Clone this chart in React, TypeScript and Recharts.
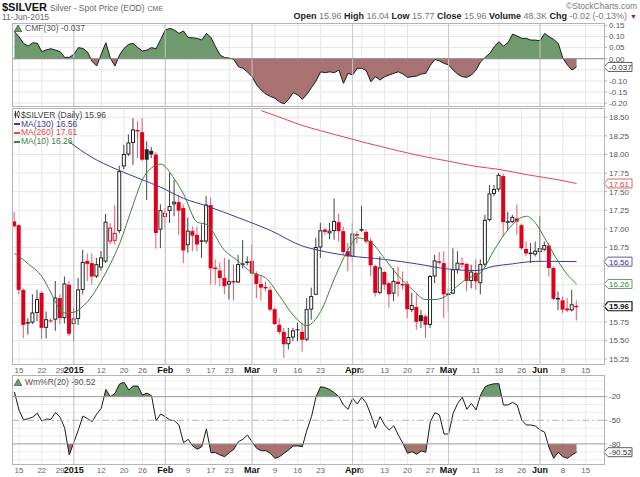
import React from 'react';
import {
  Area,
  Bar,
  CartesianGrid,
  ComposedChart,
  Line,
  ReferenceLine,
  XAxis,
  YAxis,
} from 'recharts';

// day index 0 = 15-Dec-2014, trading days only; first candle is day -1
const FIRST_DAY = -1;

const opens = [
  17.10, 17.05, 16.18, 15.73, 15.74, 15.87, 16.14, 15.67, 15.77, 15.78,
  16.07, 15.80, 16.25, 15.72, 15.79, 16.18, 16.57, 16.54, 16.36, 16.48,
  16.56, 16.83, 16.84, 16.97, 17.84, 18.00, 18.155, 18.33, 18.30, 18.07,
  18.05, 18.00, 16.99, 17.16, 17.24, 17.33, 17.36, 17.28, 16.78, 16.97,
  16.92, 16.83, 16.83, 17.32, 16.48, 16.44, 16.34, 16.25, 16.30, 16.28,
  16.52, 16.55, 16.57, 16.40, 16.26, 16.22, 16.18, 15.92, 15.71, 15.615,
  15.45, 15.54, 15.65, 15.615, 15.51, 15.915, 16.115, 16.75, 16.99, 16.94,
  16.97, 17.09, 16.97, 16.70, 16.63, 16.93, 16.98, 16.96, 16.84, 16.50,
  16.14, 16.42, 16.27, 16.13, 16.29, 16.26, 16.26, 15.91, 15.95, 15.84,
  15.825, 15.71, 16.36, 16.565, 16.54, 16.12, 16.13, 16.45, 16.54, 16.53,
  16.30, 16.41, 16.27, 16.52, 17.12, 17.47, 17.53, 17.71, 17.09, 17.09,
  17.14, 17.05, 16.73, 16.67, 16.655, 16.69, 16.72, 16.775, 16.475, 16.06,
  16.04, 15.93, 15.905, 15.96,
];
const highs = [
  17.23, 17.06, 16.20, 15.80, 16.12, 16.18, 16.16, 15.89, 15.80, 16.30,
  16.12, 16.36, 16.30, 15.94, 16.34, 16.72, 16.67, 16.67, 16.61, 16.70,
  17.20, 17.08, 17.32, 17.85, 18.13, 18.27, 18.49, 18.45, 18.49, 18.18,
  18.10, 18.03, 17.33, 17.28, 17.75, 17.66, 17.46, 17.33, 17.15, 17.03,
  17.03, 17.06, 17.44, 17.42, 16.59, 16.55, 16.61, 16.59, 16.52, 16.65,
  16.85, 16.63, 16.79, 16.43, 16.36, 16.29, 16.23, 15.94, 15.80, 15.67,
  15.67, 15.67, 15.74, 15.74, 16.07, 16.21, 16.88, 17.08, 17.01, 17.08,
  17.41, 17.20, 17.03, 16.81, 17.08, 16.97, 17.31, 16.99, 16.88, 16.52,
  16.63, 16.43, 16.29, 16.47, 16.49, 16.43, 16.30, 16.14, 16.12, 15.91,
  15.85, 16.38, 16.65, 16.69, 16.70, 16.21, 16.74, 16.70, 16.62, 16.54,
  16.52, 16.59, 16.59, 17.19, 17.59, 17.59, 17.75, 17.74, 17.23, 17.19,
  17.33, 17.07, 16.83, 16.81, 16.83, 17.17, 16.83, 16.81, 16.49, 16.16,
  16.09, 16.07, 16.18, 16.04,
];
const lows = [
  17.02, 16.12, 15.53, 15.58, 15.72, 15.76, 15.52, 15.53, 15.74, 15.63,
  15.72, 15.73, 15.56, 15.49, 15.71, 16.12, 16.30, 16.25, 16.34, 16.44,
  16.54, 16.79, 16.79, 16.94, 17.80, 17.98, 17.86, 17.95, 17.91, 17.39,
  17.95, 16.735, 16.74, 17.00, 17.08, 17.17, 16.92, 16.54, 16.68, 16.70,
  16.70, 16.61, 16.80, 16.25, 16.25, 16.23, 16.12, 16.05, 16.04, 16.27,
  16.47, 16.51, 16.39, 16.07, 16.04, 16.16, 15.89, 15.71, 15.58, 15.265,
  15.38, 15.49, 15.49, 15.35, 15.49, 15.78, 16.11, 16.61, 16.92, 16.86,
  16.855, 16.83, 16.65, 16.43, 16.56, 16.80, 16.96, 16.80, 16.36, 16.09,
  16.12, 16.18, 15.94, 16.03, 16.09, 16.18, 15.80, 15.88, 15.645, 15.67,
  15.53, 15.67, 16.27, 16.52, 15.80, 15.89, 16.12, 16.40, 16.47, 16.16,
  16.20, 16.18, 16.12, 16.50, 17.10, 17.44, 17.50, 16.90, 16.98, 17.08,
  16.92, 16.72, 16.63, 16.54, 16.63, 16.56, 16.70, 16.36, 16.04, 15.91,
  15.87, 15.88, 15.89, 15.77,
];
const closes = [
  17.035, 16.18, 15.71, 15.74, 15.87, 16.05, 15.67, 15.78, 15.76, 16.07,
  15.80, 16.26, 15.59, 15.79, 16.18, 16.55, 16.53, 16.36, 16.52, 16.61,
  17.09, 17.01, 16.94, 17.77, 18.00, 18.155, 18.33, 18.31, 17.93, 17.93,
  18.00, 16.945, 17.245, 17.21, 17.30, 17.36, 17.245, 16.71, 16.97, 16.91,
  16.79, 16.84, 17.32, 16.47, 16.46, 16.34, 16.23, 16.29, 16.28, 16.52,
  16.53, 16.555, 16.40, 16.26, 16.21, 16.20, 15.915, 15.72, 15.615, 15.45,
  15.54, 15.63, 15.64, 15.51, 15.915, 16.09, 16.75, 16.975, 16.96, 16.97,
  17.10, 16.97, 16.69, 16.63, 16.93, 16.91, 16.99, 16.83, 16.51, 16.14,
  16.475, 16.25, 16.12, 16.295, 16.26, 16.24, 15.92, 15.97, 15.75, 15.76,
  15.71, 16.36, 16.57, 16.545, 16.12, 16.125, 16.45, 16.54, 16.52, 16.30,
  16.42, 16.295, 16.52, 17.115, 17.47, 17.53, 17.72, 17.09, 17.095, 17.155,
  17.10, 16.74, 16.67, 16.675, 16.70, 16.735, 16.775, 16.475, 16.06, 16.065,
  15.915, 15.905, 15.98, 15.96,
];

// moving averages as [day, value]
const ma10 = [
  [-1, 16.67], [0, 16.63], [2, 16.53], [5, 16.36], [7, 16.14], [9, 15.91],
  [10, 15.87], [12, 15.88], [14, 15.96], [16, 16.1], [18, 16.3], [20, 16.53],
  [22, 16.8], [25, 17.33], [27, 17.66], [29, 17.82], [31, 17.87], [34, 17.67],
  [36, 17.47], [39, 17.09], [41, 17.06], [45, 16.71], [48, 16.565], [51, 16.41],
  [54, 16.34], [57, 16.1], [60, 15.84], [63, 15.7], [66, 15.89], [69, 16.33],
  [72, 16.72], [74, 16.88], [77, 16.82], [80, 16.6], [83, 16.37], [86, 16.19],
  [89, 16.05], [91, 16.05], [94, 16.12], [95, 16.18], [98, 16.33], [101, 16.41],
  [104, 16.72], [107, 16.99], [111, 17.17], [113, 17.08], [115, 16.88],
  [118, 16.56], [120, 16.385], [122, 16.26],
];
const ma130 = [
  [11, 18.17], [16, 17.96], [21, 17.81], [27, 17.66], [31, 17.56], [36, 17.41],
  [41, 17.31], [48, 17.15], [55, 16.98], [62, 16.77], [65, 16.72], [72, 16.64],
  [80, 16.59], [87, 16.53], [94, 16.46], [100, 16.44], [104, 16.5], [108, 16.53],
  [111, 16.555], [115, 16.565], [122, 16.56],
];
const ma260 = [
  [53, 18.59], [58, 18.48], [62, 18.39], [66, 18.32], [69, 18.27], [76, 18.155],
  [83, 18.05], [88, 17.98], [94, 17.91], [100, 17.84], [105, 17.8], [111, 17.73],
  [118, 17.66], [122, 17.61],
];

const cmf = [
  0.122, 0.099, 0.069, 0.057, 0.072, 0.070, 0.032, 0.040, 0.045, 0.039,
  0.032, 0.006, 0.006, 0.020, 0.050, 0.046, 0.030, -0.012, -0.033, 0.020,
  0.072, 0.002, -0.033, 0.017, 0.047, 0.065, 0.069, 0.050, 0.035, 0.039,
  0.050, 0.045, 0.087, 0.129, 0.137, 0.129, 0.114, 0.125, 0.096, 0.094,
  0.092, 0.084, 0.114, 0.096, 0.054, 0.017, 0.005, 0.003, -0.003, -0.036,
  -0.043, -0.060, -0.081, -0.118, -0.141, -0.159, -0.170, -0.178, -0.194, -0.204,
  -0.183, -0.153, -0.163, -0.183, -0.160, -0.130, -0.100, -0.059, -0.063, -0.059,
  -0.063, -0.051, -0.111, -0.066, -0.073, -0.043, -0.043, -0.054, -0.104, -0.081,
  -0.096, -0.081, -0.073, -0.066, -0.059, -0.069, -0.084, -0.081, -0.078, -0.069,
  -0.066, -0.030, -0.003, -0.010, -0.021, -0.028, -0.051, -0.070, -0.081, -0.084,
  -0.073, -0.051, -0.014, 0.006, 0.024, 0.054, 0.077, 0.057, 0.072, 0.111,
  0.102, 0.092, 0.092, 0.084, 0.084, 0.081, 0.114, 0.099, 0.087, 0.069,
  0.002, -0.028, -0.051, -0.037,
];

const wmr = [
  -14, -37, -49.6, -48, -46, -41, -50.9, -48.4, -48.8, -40,
  -46.2, -60, -94, -78, -62, -44.5, -48, -51.8, -42, -34.8,
  -11, -20, -15.8, -4, -1.8, -11.5, -6.5, -6.5, -18, -15.5,
  -18.8, -50.5, -42, -45.4, -49.6, -50.5, -56, -78.4, -74.1, -82.6,
  -86.8, -83.5, -61, -91.1, -91.1, -94, -96.2, -91.1, -86.8, -77.2,
  -74.1, -68.7, -77.2, -85.5, -88.6, -88.6, -91.9, -98.3, -96.2, -91.9,
  -87.7, -82.6, -82.6, -83.5, -62.3, -45.4, -20, -7.3, -8.6, -11,
  -15, -20, -30.6, -36, -22.1, -29.3, -20.8, -28.4, -43.3, -60.2,
  -45.4, -56, -62.3, -56.9, -68.7, -79.2, -91.9, -89.8, -93.1, -88.9,
  -90.6, -51.8, -40.4, -43.3, -67.4, -67.4, -41.1, -28.4, -20.8, -36,
  -28.4, -36.9, -17.9, -7.3, -4.8, -3.6, -3.6, -30.6, -30.6, -27.2,
  -30.6, -49.6, -56, -56, -57.2, -62.3, -65, -85, -98.3, -90.6,
  -96.2, -98.3, -94, -90.52,
];

const dateTicks = [0, 5, 9, 12, 18, 23, 27, 32, 37, 42, 46, 51, 56, 61, 66, 73, 75, 80, 85, 90, 94, 100, 105, 110, 114, 119, 124];
const dateLabels = ['15', '22', '29', '2015', '12', '20', '26', 'Feb', '9', '17', '23', 'Mar', '9', '16', '23', 'Apr', '6', '13', '20', '27', 'May', '11', '18', '26', 'Jun', '8', '15'];
const monthTicks = [12, 32, 51, 73, 94, 114];

const priceGrid = [15.25, 15.5, 15.75, 16, 16.25, 16.5, 16.75, 17, 17.25, 17.5, 17.75, 18, 18.25, 18.5];
// labels hidden under the value tags in the reference are left out
const priceTicks = [15.25, 15.5, 15.75, 16.75, 17, 17.25, 17.5, 17.75, 18, 18.25, 18.5];
const cmfGrid = [-0.2, -0.15, -0.1, -0.05, 0, 0.05, 0.1, 0.15];
const cmfTicks = [-0.2, -0.15, -0.1, 0, 0.05, 0.1, 0.15];
const wmrTicks = [-20, -50, -80];
const wmrGrid = [0, -10, -30, -40, -60, -70, -90, -100];

// layout
const W = 640;
const PLOT_L = 12;
const AXIS_W = 36;
const PAD = 6;
const X_DOMAIN = [-1.53, 128];
const CMF_TOP = 23;
const CMF_H = 83;
const CMF_DOMAIN = [-0.213, 0.161];
const MAIN_TOP = 108;
const MAIN_H = 256;
const PRICE_DOMAIN = [15.184, 18.625];
const WMR_TOP = 375;
const WMR_H = 89;
const WMR_DOMAIN = [-105.5, 7.5];
const XLAB_H = 13;

const FONT = '"Liberation Sans", Arial, sans-serif';
const RED = '#e0001b';
const GREEN_FILL = '#6e9a6e';
const BROWN_FILL = '#a97272';

const rows = opens.map((o, k) => ({
  i: FIRST_DAY + k,
  o,
  h: highs[k],
  l: lows[k],
  c: closes[k],
  prev: k > 0 ? closes[k - 1] : o,
  cmf: cmf[k],
  wmr: wmr[k],
}));
const withMa = rows.map((r) => {
  const a = ma10.find((p) => p[0] === r.i);
  const b = ma130.find((p) => p[0] === r.i);
  const d = ma260.find((p) => p[0] === r.i);
  return { ...r, ma10: a ? a[1] : undefined, ma130: b ? b[1] : undefined, ma260: d ? d[1] : undefined };
});

const Candle = (props: any) => {
  const { x, y, width, height, payload } = props;
  if (!payload || x == null || y == null) return null;
  const { o, h, l, c, prev } = payload;
  const hgt = Math.abs(height);
  const k = h > l ? hgt / (h - l) : 0;
  const py = (v: number) => y + (h - v) * k;
  const cx = x + width / 2;
  const red = c < prev;
  const filled = c < o;
  const color = red ? RED : '#222';
  const wick = red ? '#ec5868' : '#444';
  const top = py(Math.max(o, c));
  const bh = Math.max(1, py(Math.min(o, c)) - top);
  return (
    <g>
      <line x1={cx} x2={cx} y1={y} y2={y + hgt} stroke={wick} strokeWidth={1} />
      {filled ? (
        <rect x={cx - 2} y={top} width={4} height={bh} fill={color} />
      ) : (
        <rect x={cx - 1.5} y={top} width={3} height={Math.max(0.5, bh - 0.5)} fill="#fff" stroke={color} strokeWidth={1} />
      )}
    </g>
  );
};

const DateTick = (props: any) => {
  const { x, y, payload } = props;
  const k = dateTicks.indexOf(payload.value);
  const bold = monthTicks.includes(payload.value);
  return (
    <text
      x={x}
      y={y + 9}
      textAnchor="middle"
      fontSize={bold ? 9 : 8}
      fontWeight={bold ? 'bold' : 'normal'}
      fill={bold ? '#111' : '#666'}
      fontFamily={FONT}
    >
      {k >= 0 ? dateLabels[k] : ''}
    </text>
  );
};

const tag = (text: string, color: string, bold = false) => (props: any) => {
  const vb = props.viewBox;
  if (!vb) return null;
  const r = vb.x + vb.width;
  const y = vb.y;
  return (
    <g>
      <polygon
        points={`${r},${y} ${r + 4},${y - 4.5} ${r + 28},${y - 4.5} ${r + 28},${y + 4.5} ${r + 4},${y + 4.5}`}
        fill="#fff"
        stroke={color}
        strokeWidth={bold ? 1.2 : 0.8}
      />
      <text x={r + 5} y={y + 3} fontSize={8} fontWeight={bold ? 'bold' : 'normal'} fill={color} fontFamily={FONT}>
        {text}
      </text>
    </g>
  );
};

const yTick = { fontSize: 8, fill: '#555', fontFamily: FONT };

const Border = ({ top, height }: { top: number; height: number }) => (
  <div
    style={{
      position: 'absolute',
      left: PLOT_L,
      top,
      width: W - PLOT_L - AXIS_W + 1,
      height: height + 1,
      border: '1px solid #b4b4b4',
      boxSizing: 'border-box',
      pointerEvents: 'none',
    }}
  />
);

const Tri = ({ color }: { color: string }) => (
  <svg width={8} height={7} style={{ verticalAlign: 'middle', marginRight: 3 }}>
    <polygon points="0,7 4,0 8,7" fill={color} stroke="#333" strokeWidth={0.6} />
  </svg>
);

const cmfZero = CMF_DOMAIN[1] / (CMF_DOMAIN[1] - CMF_DOMAIN[0]);
const w20 = (WMR_DOMAIN[1] + 20) / (WMR_DOMAIN[1] - WMR_DOMAIN[0]);
const w80 = (WMR_DOMAIN[1] + 80) / (WMR_DOMAIN[1] - WMR_DOMAIN[0]);

const App = () => {
  const margin = { top: 0, right: 0, bottom: 0, left: PLOT_L };
  const padded = { top: PAD, right: 0, bottom: PAD, left: PLOT_L };
  return (
    <div
      style={{
        position: 'absolute',
        left: 0,
        top: 0,
        width: W,
        height: 477,
        background: '#fff',
        fontFamily: FONT,
        overflow: 'hidden',
      }}
    >
      {/* header */}
      <div style={{ position: 'absolute', left: 2, top: 0, whiteSpace: 'nowrap', lineHeight: '12px' }}>
        <span style={{ fontSize: 11, fontWeight: 'bold', color: '#111' }}>$SILVER</span>
        <span style={{ fontSize: 8.5, color: '#666', marginLeft: 3 }}>Silver - Spot Price (EOD)</span>
        <span style={{ fontSize: 7, color: '#666', marginLeft: 3 }}>CME</span>
      </div>
      <div style={{ position: 'absolute', right: 3, top: 1, fontSize: 8.5, lineHeight: '10px', color: '#777' }}>©StockCharts.com</div>
      <div style={{ position: 'absolute', left: 2, top: 13, fontSize: 8.5, lineHeight: '9px', color: '#666' }}>11-Jun-2015</div>
      <div style={{ position: 'absolute', right: 13, top: 12, fontSize: 9, lineHeight: '9px', color: '#777', whiteSpace: 'nowrap' }}>
        <b style={{ color: '#222' }}>Open</b> 15.96 <b style={{ color: '#222' }}>High</b> 16.04{' '}
        <b style={{ color: '#222' }}>Low</b> 15.77 <b style={{ color: '#222' }}>Close</b> 15.96{' '}
        <b style={{ color: '#222' }}>Volume</b> 48.3K <b style={{ color: '#222' }}>Chg</b> -0.02 (-0.13%)
      </div>
      <div style={{ position: 'absolute', right: 3, top: 12, fontSize: 7, lineHeight: '9px', color: RED }}>▼</div>

      {/* CMF panel */}
      <div style={{ position: 'absolute', left: 0, top: CMF_TOP - PAD }}>
        <ComposedChart width={W} height={CMF_H + 2 * PAD} data={rows} margin={padded}>
          <defs>
            <linearGradient id="cmfFill" gradientUnits="userSpaceOnUse" x1={0} y1={PAD} x2={0} y2={PAD + CMF_H}>
              <stop offset={cmfZero} stopColor={GREEN_FILL} />
              <stop offset={cmfZero} stopColor={BROWN_FILL} />
            </linearGradient>
          </defs>
          <CartesianGrid stroke="#e6e6e6" verticalValues={dateTicks} horizontalValues={cmfGrid} />
          <XAxis dataKey="i" type="number" domain={X_DOMAIN} allowDataOverflow hide />
          <YAxis
            orientation="right"
            width={AXIS_W}
            domain={CMF_DOMAIN}
            allowDataOverflow
            ticks={cmfTicks}
            interval={0}
            tickFormatter={(v: number) => v.toFixed(2)}
            tick={yTick}
            tickSize={3}
            tickLine={{ stroke: '#aaa' }}
            axisLine={false}
          />
          {monthTicks.map((m) => (
            <ReferenceLine key={m} x={m} stroke="#c6c6c6" />
          ))}
          <ReferenceLine y={0} stroke="#8a8a8a" />
          <Area
            type="linear"
            dataKey="cmf"
            baseValue={0}
            stroke="#1a1a1a"
            strokeWidth={1}
            fill="url(#cmfFill)"
            fillOpacity={1}
            isAnimationActive={false}
          />
          <ReferenceLine y={-0.037} stroke="none" label={tag('-0.037', '#333')} />
        </ComposedChart>
      </div>
      <Border top={CMF_TOP} height={CMF_H} />
      <div style={{ position: 'absolute', left: 14, top: CMF_TOP, fontSize: 8.5, color: '#555' }}>
        <Tri color={GREEN_FILL} />
        CMF(30) -0.037
      </div>

      {/* price panel */}
      <div style={{ position: 'absolute', left: 0, top: MAIN_TOP }}>
        <ComposedChart width={W} height={MAIN_H + XLAB_H} data={withMa} margin={margin}>
          <CartesianGrid stroke="#e6e6e6" verticalValues={dateTicks} horizontalValues={priceGrid} />
          <XAxis
            dataKey="i"
            type="number"
            domain={X_DOMAIN}
            allowDataOverflow
            ticks={dateTicks}
            interval={0}
            tick={(p: any) => <DateTick {...p} />}
            tickLine={false}
            axisLine={false}
            tickSize={0}
            tickMargin={0}
            height={XLAB_H}
          />
          <YAxis
            orientation="right"
            width={AXIS_W}
            domain={PRICE_DOMAIN}
            allowDataOverflow
            ticks={priceTicks}
            interval={0}
            tickFormatter={(v: number) => v.toFixed(2)}
            tick={yTick}
            tickSize={3}
            tickLine={{ stroke: '#aaa' }}
            axisLine={false}
          />
          {monthTicks.map((m) => (
            <ReferenceLine key={m} x={m} stroke="#c6c6c6" />
          ))}
          <Bar dataKey={(d: any) => [d.l, d.h]} barSize={4} shape={Candle} isAnimationActive={false} />
          <Line type="monotone" dataKey="ma130" stroke="#3b3b9e" strokeWidth={1} dot={false} connectNulls isAnimationActive={false} />
          <Line type="monotone" dataKey="ma260" stroke="#e2474d" strokeWidth={1} dot={false} connectNulls isAnimationActive={false} />
          <Line type="monotone" dataKey="ma10" stroke="#3f7f3f" strokeWidth={1} dot={false} connectNulls isAnimationActive={false} />
          <ReferenceLine y={17.61} stroke="none" label={tag('17.61', '#d83a3a')} />
          <ReferenceLine y={16.56} stroke="none" label={tag('16.56', '#33338f')} />
          <ReferenceLine y={16.26} stroke="none" label={tag('16.26', '#3f7f3f')} />
          <ReferenceLine y={15.96} stroke="none" label={tag('15.96', '#111', true)} />
        </ComposedChart>
      </div>
      <Border top={MAIN_TOP} height={MAIN_H} />
      <div style={{ position: 'absolute', left: 14, top: MAIN_TOP + 3, fontSize: 8.5, lineHeight: '8.6px', whiteSpace: 'nowrap' }}>
        <div style={{ color: '#444' }}>
          <svg width={6} height={7} style={{ marginRight: 1 }}>
            <line x1={1.5} x2={1.5} y1={0} y2={7} stroke="#333" />
            <rect x={0.5} y={2} width={2} height={3} fill="#333" />
            <line x1={4.5} x2={4.5} y1={0} y2={7} stroke="#333" />
            <rect x={3.5} y={1} width={2} height={4} fill="#fff" stroke="#333" strokeWidth={0.6} />
          </svg>
          $SILVER (Daily) 15.96
        </div>
        <div style={{ color: '#3b3b9e' }}>
          <span style={{ display: 'inline-block', width: 6, borderTop: '2px solid #3b3b9e', verticalAlign: 'middle', marginRight: 1 }} />
          MA(130) 16.56
        </div>
        <div style={{ color: '#e2474d' }}>
          <span style={{ display: 'inline-block', width: 6, borderTop: '2px solid #e2474d', verticalAlign: 'middle', marginRight: 1 }} />
          MA(260) 17.61
        </div>
        <div style={{ color: '#3f7f3f' }}>
          <span style={{ display: 'inline-block', width: 6, borderTop: '2px solid #3f7f3f', verticalAlign: 'middle', marginRight: 1 }} />
          MA(10) 16.26
        </div>
      </div>

      {/* Williams %R panel */}
      <div style={{ position: 'absolute', left: 0, top: WMR_TOP }}>
        <ComposedChart width={W} height={WMR_H + XLAB_H} data={rows} margin={margin}>
          <defs>
            <linearGradient id="wmrFill" gradientUnits="userSpaceOnUse" x1={0} y1={0} x2={0} y2={WMR_H}>
              <stop offset={w20} stopColor={GREEN_FILL} stopOpacity={1} />
              <stop offset={w20} stopColor="#fff" stopOpacity={0} />
              <stop offset={w80} stopColor="#fff" stopOpacity={0} />
              <stop offset={w80} stopColor={BROWN_FILL} stopOpacity={1} />
            </linearGradient>
          </defs>
          <CartesianGrid stroke="#ececec" verticalValues={dateTicks} horizontalValues={wmrGrid} />
          <XAxis
            dataKey="i"
            type="number"
            domain={X_DOMAIN}
            allowDataOverflow
            ticks={dateTicks}
            interval={0}
            tick={(p: any) => <DateTick {...p} />}
            tickLine={false}
            axisLine={false}
            tickSize={0}
            tickMargin={0}
            height={XLAB_H}
          />
          <YAxis
            orientation="right"
            width={AXIS_W}
            domain={WMR_DOMAIN}
            allowDataOverflow
            ticks={wmrTicks}
            interval={0}
            tick={yTick}
            tickSize={3}
            tickLine={{ stroke: '#aaa' }}
            axisLine={false}
          />
          {monthTicks.map((m) => (
            <ReferenceLine key={m} x={m} stroke="#c6c6c6" />
          ))}
          <ReferenceLine y={-20} stroke="#9a9a9a" />
          <ReferenceLine y={-80} stroke="#9a9a9a" />
          <ReferenceLine y={-50} stroke="#b0b0b0" strokeDasharray="7 3 2 3" />
          <Area
            type="linear"
            dataKey="wmr"
            baseValue={-20}
            stroke="#1a1a1a"
            strokeWidth={1}
            fill="url(#wmrFill)"
            fillOpacity={1}
            isAnimationActive={false}
          />
          <ReferenceLine y={-90.52} stroke="none" label={tag('-90.52', '#333')} />
        </ComposedChart>
      </div>
      <Border top={WMR_TOP} height={WMR_H} />
      <div style={{ position: 'absolute', left: 14, top: WMR_TOP + 2, fontSize: 8.5, color: '#555' }}>
        <Tri color={GREEN_FILL} />
        Wm%R(20) -90.52
      </div>
    </div>
  );
};

export default App;
